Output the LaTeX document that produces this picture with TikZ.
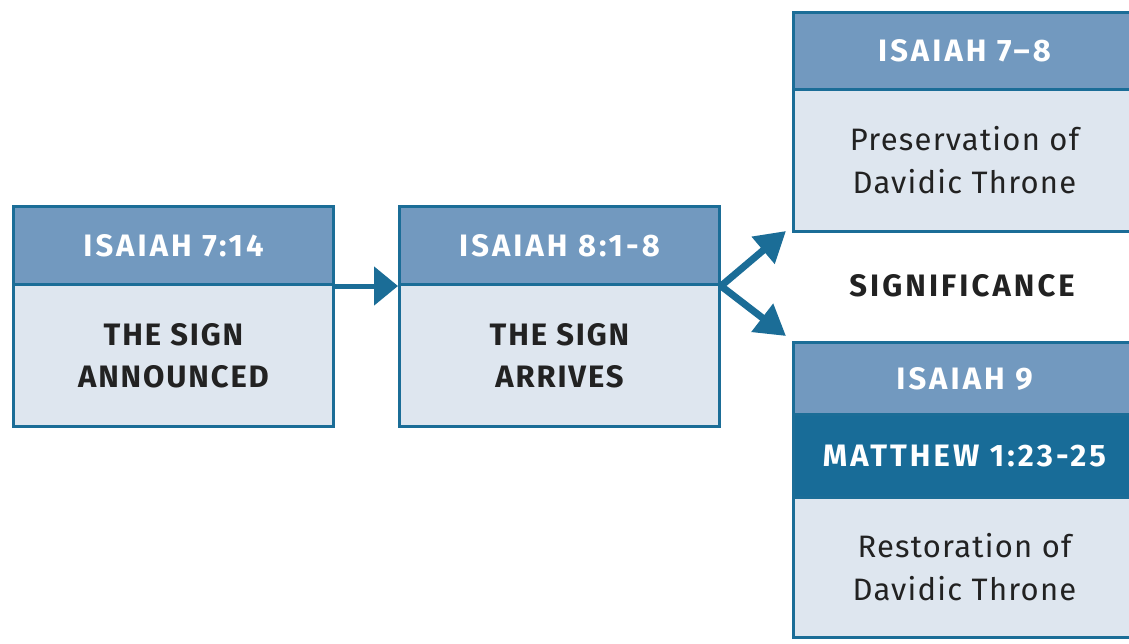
\documentclass[tikz,border=0pt]{standalone}
\usepackage{fontspec}
\setmainfont{Fira Sans}
\newfontfamily\hdfont[LetterSpace=10]{Fira Sans}
\newfontfamily\capfont[LetterSpace=6]{Fira Sans}
\newfontfamily\lowfont[LetterSpace=4]{Fira Sans}
\usetikzlibrary{arrows.meta}
\definecolor{edge}{HTML}{1B6D97}
\definecolor{hdr}{HTML}{7299BF}
\definecolor{hdrdark}{HTML}{186C98}
\definecolor{bodyfill}{HTML}{DEE6EF}
\definecolor{ink}{HTML}{222222}
\tikzset{
  x=1pt, y=-1pt,
  hdbox/.style={draw=edge, line width=3pt, fill=hdr, minimum width=320pt, minimum height=78pt, inner sep=0pt, anchor=north west,
    text=white, font=\hdfont\bfseries\fontsize{31}{36}\selectfont},
  hdbox2/.style={hdbox, fill=hdrdark, minimum height=83pt},
  bodybox/.style={draw=edge, line width=3pt, fill=bodyfill, minimum width=320pt, inner sep=0pt, anchor=north west,
    text=ink, align=center},
  capbody/.style={font=\capfont\bfseries\fontsize{31}{42}\selectfont},
  lowbody/.style={font=\lowfont\fontsize{31}{43}\selectfont},
  flow/.style={draw=edge, line width=5pt, -{Triangle[length=24pt,width=38pt]}},
  branch/.style={draw=edge, line width=7pt, -{Triangle[length=30pt,width=34pt]}},
}
\begin{document}
\begin{tikzpicture}
\useasboundingbox (0,0) rectangle (1129,643);
\fill[white] (0,0) rectangle (1129,643);
% box 1
\node[bodybox, capbody, minimum height=142pt] (b1) at (12,283) {THE SIGN\\ANNOUNCED};
\node[hdbox] (h1) at (12,205) {ISAIAH 7:14};
% box 2
\node[bodybox, capbody, minimum height=142pt] (b2) at (398,283) {THE SIGN\\ARRIVES};
\node[hdbox] (h2) at (398,205) {ISAIAH 8:1-8};
% box 3
\node[bodybox, lowbody, minimum width=342pt, minimum height=142pt] (b3) at (792,88) {Preservation of\\Davidic Throne};
\node[hdbox, minimum width=342pt, minimum height=77pt] (h3) at (792,11) {ISAIAH 7–8};
% significance
\node[font=\hdfont\bfseries\fontsize{31}{36}\selectfont, text=ink] (sig) at (962,286) {SIGNIFICANCE};
% box 4
\node[bodybox, lowbody, minimum width=342pt, minimum height=140pt] (b4) at (792,496) {Restoration of\\Davidic Throne};
\node[hdbox2, minimum width=342pt] (m4) at (792,413) {MATTHEW 1:23-25};
\node[hdbox, minimum width=342pt, minimum height=72pt] (h4) at (792,341) {ISAIAH 9};
% arrows
\coordinate (t1) at (786,231);
\coordinate (t2) at (786,336);
\draw[flow] (h1.south east) -- (h2.south west);
\draw[branch] (h2.south east) -- (t1);
\draw[branch] (h2.south east) -- (t2);
\end{tikzpicture}
\end{document}
